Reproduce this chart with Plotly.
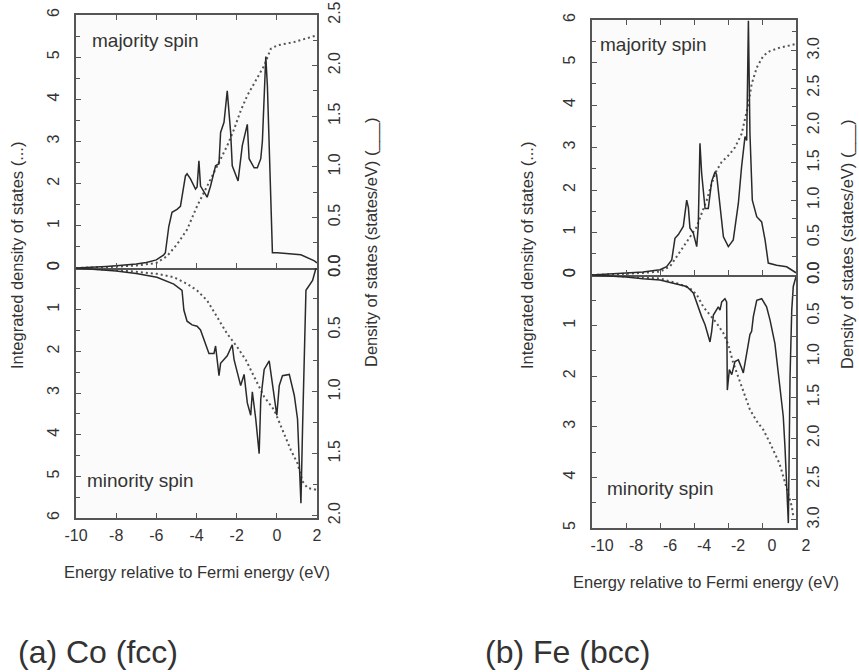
import plotly.graph_objects as go

W, H = 859, 672


def fx(p):
    return p / W


def fy(p):
    return 1 - p / H


# ---------------- data ----------------
# Co (fcc) majority spin: density of states (states/eV, right axis)
co_maj_dos_e = [-10, -9.5, -9, -8.5, -8, -7.5, -7, -6.5, -6, -5.63, -5.55, -5.38, -5.22, -4.97, -4.8,
                -4.55, -4.47, -4.3, -4.05, -3.97, -3.88, -3.8, -3.47, -3.3, -3.05, -2.88, -2.8, -2.63,
                -2.47, -2.3, -2.22, -1.93, -1.72, -1.47, -1.38, -1.13, -0.97, -0.8, -0.72, -0.55, -0.47,
                -0.3, -0.22, 0.03, 1.2, 1.87, 2.0]
co_maj_dos = [0.0, 0.003, 0.008, 0.015, 0.022, 0.03, 0.04, 0.055, 0.08, 0.13, 0.15, 0.41, 0.55, 0.58, 0.61,
              0.91, 0.93, 0.88, 0.78, 0.80, 1.06, 0.81, 0.70, 0.81, 1.01, 1.03, 1.34, 1.44,
              1.75, 1.34, 1.01, 0.86, 1.21, 1.42, 1.08, 0.99, 0.99, 1.08, 1.25, 2.09, 1.80,
              0.68, 0.15, 0.15, 0.13, 0.07, 0.05]
# Co majority spin: integrated density of states (left axis)
co_maj_int_e = [-10, -9, -8, -7, -6, -5.47, -4.97, -4.47, -3.97, -3.47, -2.97, -2.47, -2.13, -1.8, -1.47,
                -0.97, -0.63, -0.3, 0.03, 0.87, 2.0]
co_maj_int = [0.0, 0.01, 0.03, 0.06, 0.12, 0.28, 0.56, 0.91, 1.47, 1.94, 2.42, 2.9, 3.29, 3.73, 4.09,
              4.52, 4.8, 5.2, 5.28, 5.36, 5.52]

# Co minority spin
co_min_dos_e = [-10, -9, -8, -7, -5.97, -5.13, -4.72, -4.63, -4.47, -4.22, -3.97, -3.8, -3.63, -3.38,
                -3.13, -3.05, -2.88, -2.8, -2.47, -2.22, -2.13, -1.8, -1.63, -1.47, -1.3, -1.22, -1.05,
                -0.88, -0.8, -0.63, -0.38, -0.22, 0.0, 0.12, 0.28, 0.62, 0.87, 1.03, 1.2, 1.28, 1.37,
                1.45, 1.78, 1.95]
co_min_dos = [0.0, 0.01, 0.025, 0.045, 0.075, 0.13, 0.18, 0.34, 0.43, 0.46, 0.47, 0.50, 0.58, 0.69,
              0.69, 0.63, 0.87, 0.77, 0.71, 0.62, 0.74, 0.95, 0.86, 1.09, 1.19, 1.00, 1.22,
              1.50, 1.06, 0.82, 0.75, 0.93, 1.19, 0.95, 0.87, 0.86, 1.03, 1.22, 1.90, 1.30, 0.71,
              0.18, 0.10, 0.0]
co_min_int_e = [-10, -9, -8, -7, -5.97, -5.13, -4.47, -3.97, -3.47, -2.97, -2.47, -1.97, -1.55, -1.13,
                -0.63, -0.13, 0.37, 0.7, 1.03, 1.28, 1.53, 1.95]
co_min_int = [0.0, 0.02, 0.05, 0.09, 0.14, 0.22, 0.38, 0.54, 0.78, 1.18, 1.58, 1.9, 2.2, 2.61,
              3.09, 3.41, 3.97, 4.37, 4.69, 5.12, 5.28, 5.32]

# Fe (bcc) majority spin
fe_maj_dos_e = [-10, -9, -8, -7, -6.0, -5.61, -5.31, -5.12, -4.92, -4.63, -4.43, -4.33, -4.24, -4.04,
                -3.84, -3.75, -3.65, -3.55, -3.35, -3.16, -2.96, -2.76, -2.67, -2.47, -2.27, -1.98,
                -1.69, -1.39, -1.2, -1.0, -0.9, -0.8, -0.71, -0.57, -0.31, -0.02, 0.18, 0.37, 0.86,
                1.45, 1.94, 2.0]
fe_maj_dos = [0.0, 0.01, 0.02, 0.04, 0.07, 0.11, 0.20, 0.49, 0.54, 0.65, 1.00, 0.90, 0.63, 0.56,
              0.38, 0.65, 1.76, 1.36, 0.89, 0.89, 1.25, 1.38, 1.34, 0.92, 0.51, 0.38,
              0.47, 0.96, 1.45, 1.85, 1.80, 3.40, 1.90, 1.00, 0.78, 0.71, 0.47, 0.16, 0.13,
              0.11, 0.04, 0.03]
fe_maj_int_e = [-10, -9, -8, -7, -6.0, -5.41, -5.02, -4.63, -4.24, -3.84, -3.55, -3.25, -2.96, -2.67,
                -2.37, -1.98, -1.59, -1.2, -1.0, -0.8, -0.61, -0.31, 0.08, 0.47, 1.06, 1.94]
fe_maj_int = [0.0, 0.01, 0.03, 0.05, 0.08, 0.2, 0.43, 0.66, 0.9, 1.13, 1.45, 1.76, 2.15, 2.46,
              2.66, 2.81, 3.0, 3.32, 3.67, 4.02, 4.49, 4.88, 5.16, 5.27, 5.35, 5.43]

# Fe minority spin
fe_min_dos_e = [-10, -9, -8, -7, -6.0, -5.22, -4.43, -4.04, -3.84, -3.55, -3.35, -3.16, -3.06, -2.96,
                -2.86, -2.57, -2.47, -2.37, -2.18, -2.08, -2.04, -1.92, -1.78, -1.59, -1.39, -1.2,
                -1.1, -0.9, -0.71, -0.61, -0.51, -0.31, -0.02, 0.27, 0.47, 0.76, 0.96, 1.16, 1.25,
                1.35, 1.45, 1.55, 1.65, 1.75, 1.84, 2.0]
fe_min_dos = [0.0, 0.01, 0.025, 0.045, 0.06, 0.10, 0.14, 0.22, 0.35, 0.51, 0.61, 0.76, 0.82, 0.69,
              0.49, 0.39, 0.43, 0.33, 0.29, 0.33, 1.41, 1.16, 1.22, 1.06, 1.04, 1.14,
              1.20, 0.96, 0.73, 0.69, 0.51, 0.31, 0.29, 0.39, 0.55, 0.84, 1.20, 1.53, 1.73,
              2.10, 2.67, 3.04, 1.24, 0.43, 0.14, 0.02]
fe_min_int_e = [-10, -9, -8, -7, -6.0, -5.02, -4.24, -3.84, -3.45, -3.06, -2.67, -2.27, -1.98, -1.69,
                -1.29, -1.0, -0.71, -0.31, 0.08, 0.47, 0.76, 1.02, 1.25, 1.55, 1.75, 1.84]
fe_min_int = [0.0, 0.01, 0.03, 0.05, 0.07, 0.16, 0.26, 0.39, 0.63, 0.79, 0.95, 1.15, 1.38, 1.74,
              2.1, 2.4, 2.66, 2.89, 3.06, 3.32, 3.52, 3.72, 3.98, 4.31, 4.57, 4.77]

energy_ticks = [-10, -8, -6, -4, -2, 0, 2]
energy_labels = ["-10", "-8", "-6", "-4", "-2", "0", "2"]

# ---------------- figure ----------------
FONT = "Liberation Sans, Arial, Helvetica, sans-serif"
INK = "#333333"
FRAME = "#555555"

dot_line = dict(color="#555555", width=2, dash="2px,3px")
solid_line = dict(color="#2a2a2a", width=1.5)

fig = go.Figure()
series = [
    (co_maj_int_e, co_maj_int, "x", "y", dot_line),
    (co_maj_dos_e, co_maj_dos, "x", "y2", solid_line),
    (co_min_int_e, co_min_int, "x2", "y3", dot_line),
    (co_min_dos_e, co_min_dos, "x2", "y4", solid_line),
    (fe_maj_int_e, fe_maj_int, "x3", "y5", dot_line),
    (fe_maj_dos_e, fe_maj_dos, "x3", "y6", solid_line),
    (fe_min_int_e, fe_min_int, "x4", "y7", dot_line),
    (fe_min_dos_e, fe_min_dos, "x4", "y8", solid_line),
]
for xs, ys, xa, ya, ln in series:
    fig.add_trace(go.Scatter(x=xs, y=ys, xaxis=xa, yaxis=ya, mode="lines", line=ln,
                             showlegend=False, hoverinfo="skip"))

common = dict(showline=True, linecolor=FRAME, linewidth=1.5, showgrid=False, zeroline=False,
              automargin=False, ticks="inside", tickcolor=FRAME, tickwidth=1, ticklen=5,
              tickfont=dict(family=FONT, size=16, color=INK))


def xaxis(dom, anchor, upper, shift=0):
    d = dict(common, domain=[fx(dom[0]), fx(dom[1])], anchor=anchor, range=[-10, 2],
             tickvals=energy_ticks, ticktext=energy_labels)
    if upper:
        # frame top plus the zero line (ticks pointing up)
        d.update(mirror="ticks", showticklabels=False)
    else:
        d.update(mirror=False, showticklabels=True, ticklabelstandoff=2, ticklabelshift=shift)
    return d


def yleft(dom, rng, anchor):
    return dict(common, domain=[fy(dom[1]), fy(dom[0])], anchor=anchor, range=rng,
                tick0=0, dtick=1, tickangle=-90, ticklabelstandoff=9,
                minor=dict(ticks="inside", dtick=0.5, ticklen=4, tickcolor=FRAME))


def yright(over, rng, anchor):
    return dict(common, overlaying=over, side="right", anchor=anchor, range=rng,
                tick0=0, dtick=0.5, tickformat=".1f", tickangle=-90, ticklabelstandoff=2,
                minor=dict(ticks="inside", dtick=0.25, ticklen=4, tickcolor=FRAME))


co_x = (76, 317)
fe_x = (592, 796)
co_up, co_lo = (15, 268), (268, 518)
fe_up, fe_lo = (20, 275), (275, 528)

fig.update_layout(
    width=W, height=H, margin=dict(l=0, r=0, t=0, b=0, pad=0), autosize=False,
    paper_bgcolor="white", plot_bgcolor="#fbfbfb",
    font=dict(family=FONT, color=INK),
    showlegend=False,
    xaxis=xaxis(co_x, "y", True),
    xaxis2=xaxis(co_x, "y3", False),
    xaxis3=xaxis(fe_x, "y5", True),
    xaxis4=xaxis(fe_x, "y7", False, shift=10),
    yaxis=yleft(co_up, [0, 6], "x"),
    yaxis2=yright("y", [0, 2.5], "x"),
    yaxis3=yleft(co_lo, [6, 0], "x2"),
    yaxis4=yright("y3", [2.02, 0], "x2"),
    yaxis5=yleft(fe_up, [0, 6], "x3"),
    yaxis6=yright("y5", [0, 3.41], "x3"),
    yaxis7=yleft(fe_lo, [5, 0], "x4"),
    yaxis8=yright("y7", [3.1, 0], "x4"),
)


def note(text, x, y, size, angle=0, xanchor="center"):
    fig.add_annotation(text=text, x=fx(x), y=fy(y), xref="paper", yref="paper",
                       showarrow=False, textangle=angle, xanchor=xanchor, yanchor="middle",
                       borderpad=0, font=dict(family=FONT, size=size, color=INK))


# panel labels
note("majority spin", 91, 40, 19, xanchor="left")
note("minority spin", 86, 480, 19, xanchor="left")
note("majority spin", 599, 45, 19, xanchor="left")
note("minority spin", 606, 488, 19, xanchor="left")

# axis titles
left_title = "Integrated density of states (...)"
right_title = "Density of states (states/eV) (___)"
x_title = "Energy relative to Fermi energy (eV)"
note(left_title, 17, 256, 16.5, angle=-90)
note(right_title, 372, 243, 16.5, angle=-90)
note(x_title, 197, 572, 16.5)
note(left_title, 527, 256, 16.5, angle=-90)
note(right_title, 848, 245, 16.5, angle=-90)
note(x_title, 706, 582, 16.5)

# captions
note("(a) Co (fcc)", 17, 652, 32, xanchor="left")
note("(b) Fe (bcc)", 484, 652, 32, xanchor="left")

fig.write_html("out.html")
